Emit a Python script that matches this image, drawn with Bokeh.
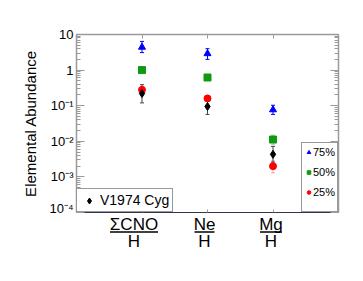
from bokeh.plotting import figure
from bokeh.layouts import column
from bokeh.models import (ColumnDataSource, Whisker, TeeHead, Legend, LegendItem,
                          LinearAxis, LogAxis, FixedTicker, Range1d)
from bokeh.embed import file_html
from bokeh.resources import INLINE
from bokeh.core.properties import value

# ---------------- data ----------------
cat_x = [1, 2, 3]
cat_num = ["ΣCNO", "Ne", "Mg"]
cat_den = ["H", "H", "H"]

v75 = [4.4, 2.9, 0.077]
v75_lo = [3.1, 2.0, 0.057]
v75_hi = [6.4, 4.0, 0.103]

v50 = [1.0, 0.62, 0.0112]
v50_lo = [0.9, 0.56, 0.008]
v50_hi = [1.1, 0.69, 0.015]

v25 = [0.28, 0.16, 0.0020]
v25_lo = [0.25, 0.14, 0.0013]
v25_hi = [0.31, 0.18, 0.0028]

vobs = [0.22, 0.095, 0.0043]
vobs_lo = [0.12, 0.057, 0.0026]
vobs_hi = [0.39, 0.149, 0.0072]

y_ticks = [0.0001, 0.001, 0.01, 0.1, 1, 10]
y_tick_labels = ["10⁻⁴", "10⁻³", "10⁻²", "10⁻¹", "1", "10"]
minor = [m * 10.0 ** e for e in range(-4, 1) for m in range(2, 10)]

# ---------------- layout ----------------
W = 355
BL, BR, BT, BB = 76, 17, 34, 3
FH = 178
H1 = BT + FH + BB
H2 = 50
FW = W - BL - BR
X0, X1 = 0, 4
Y0, Y1 = 1e-4, 10
FONT = "Liberation Sans"
GRAY = "#9a9a9a"

p = figure(width=W, height=H1, y_axis_type="log", x_range=Range1d(X0, X1),
           y_range=Range1d(Y0, Y1), output_backend="svg", toolbar_location=None,
           min_border_left=BL, min_border_right=BR, min_border_top=BT,
           min_border_bottom=BB)
p.outline_line_color = None
p.grid.visible = False
p.background_fill_color = "white"
p.border_fill_color = "white"

# left axis
ya = p.yaxis[0]
ya.ticker = FixedTicker(ticks=y_ticks, minor_ticks=minor)
ya.major_label_overrides = dict(zip(y_ticks, y_tick_labels))
ya.axis_label = "Elemental Abundance"
ya.axis_label_text_font = FONT
ya.axis_label_text_font_style = "normal"
ya.axis_label_text_font_size = "15px"
ya.axis_label_text_color = "black"
ya.axis_label_standoff = 7
ya.major_label_text_font = FONT
ya.major_label_text_font_size = "13px"
ya.major_label_text_color = "black"
ya.major_label_standoff = 3
ya.major_tick_in = 8
ya.major_tick_out = 0
ya.minor_tick_in = 4
ya.minor_tick_out = 0
ya.axis_line_color = GRAY
ya.axis_line_width = 1.5
ya.major_tick_line_color = GRAY
ya.minor_tick_line_color = GRAY

# bottom axis
xa = p.xaxis[0]
xa.ticker = FixedTicker(ticks=cat_x, minor_ticks=[])
xa.major_label_text_font_size = "0px"
xa.major_label_text_color = None
xa.major_label_standoff = 0
xa.major_tick_in = 3
xa.major_tick_out = 0
xa.minor_tick_line_color = None
xa.axis_line_color = "#34344e"
xa.axis_line_width = 1.2
xa.major_tick_line_color = GRAY

# top axis
ta = LinearAxis(ticker=FixedTicker(ticks=cat_x, minor_ticks=[]))
ta.major_label_text_font_size = "0px"
ta.major_label_text_color = None
ta.major_label_standoff = 0
ta.major_tick_in = 4
ta.major_tick_out = 0
ta.minor_tick_line_color = None
ta.axis_line_color = GRAY
ta.axis_line_width = 1.5
ta.major_tick_line_color = GRAY
p.add_layout(ta, "above")

# right axis
ra = LogAxis(ticker=FixedTicker(ticks=y_ticks, minor_ticks=minor))
ra.major_label_text_font_size = "0px"
ra.major_label_text_color = None
ra.major_label_standoff = 0
ra.major_tick_in = 8
ra.major_tick_out = 0
ra.minor_tick_in = 4
ra.minor_tick_out = 0
ra.axis_line_color = GRAY
ra.axis_line_width = 1.5
ra.major_tick_line_color = GRAY
ra.minor_tick_line_color = GRAY
p.add_layout(ra, "right")

# ---------------- series ----------------
series = [
    ("75%", v75, v75_lo, v75_hi, "blue", "triangle", 7, "blue", 1.0),
    ("50%", v50, v50_lo, v50_hi, "#119911", "square", 7, "#66cc66", 0.6),
    ("25%", v25, v25_lo, v25_hi, "red", "circle", 7, "#ff6666", 0.6),
    ("V1974 Cyg", vobs, vobs_lo, vobs_hi, "black", "diamond", 8, "#444444", 1.0),
]
rend = {}
for name, vals, lo, hi, col, mk, sz, ecol, ealpha in series:
    src = ColumnDataSource(dict(x=cat_x, y=vals, lo=lo, hi=hi))
    w = Whisker(base="x", lower="lo", upper="hi", source=src, dimension="height",
                line_color=ecol, line_alpha=ealpha, line_width=1,
                upper_head=TeeHead(size=4, line_color=ecol, line_alpha=ealpha, line_width=1),
                lower_head=TeeHead(size=4, line_color=ecol, line_alpha=ealpha, line_width=1))
    p.add_layout(w)
    rend[name] = p.scatter("x", "y", source=src, marker=mk, size=sz,
                           fill_color=col, line_color=col)

# legends
leg_r = Legend(items=[LegendItem(label="75%", renderers=[rend["75%"]]),
                      LegendItem(label="50%", renderers=[rend["50%"]]),
                      LegendItem(label="25%", renderers=[rend["25%"]])],
               location=(FW - 37, 0), orientation="vertical")
leg_r.label_text_font = FONT
leg_r.label_text_font_size = "11px"
leg_r.label_text_color = "black"
leg_r.label_height = 14
leg_r.glyph_height = 14
leg_r.glyph_width = 9
leg_r.label_standoff = 0
leg_r.spacing = 6
leg_r.padding = 2
leg_r.margin = 0
leg_r.border_line_color = "#333333"
leg_r.border_line_width = 1
leg_r.background_fill_alpha = 1
if "title_location" in Legend.properties():
    leg_r.title = " "
    leg_r.title_location = "below"
    leg_r.title_text_font_size = "4px"
    leg_r.title_standoff = 5
p.add_layout(leg_r)

leg_l = Legend(items=[LegendItem(label="V1974 Cyg", renderers=[rend["V1974 Cyg"]])],
               location=(0, 0))
leg_l.label_text_font = FONT
leg_l.label_text_font_size = "14px"
leg_l.label_text_color = "black"
leg_l.label_height = 15
leg_l.glyph_height = 15
leg_l.glyph_width = 18
leg_l.label_standoff = 2
leg_l.padding = 3
leg_l.margin = 0
leg_l.border_line_color = "#333333"
leg_l.border_line_width = 1
p.add_layout(leg_l)

# ---------------- category labels (fractions) below the axis ----------------
x_shift_px = [-8, -3, -2]
bar_half_px = [24, 10, 11]
px2x = (X1 - X0) / FW
lab = ColumnDataSource(dict(
    x=cat_x, num=cat_num, den=cat_den, dx=x_shift_px,
    bx0=[c + (s - h) * px2x for c, s, h in zip(cat_x, x_shift_px, bar_half_px)],
    bx1=[c + (s + h) * px2x for c, s, h in zip(cat_x, x_shift_px, bar_half_px)],
))

p2 = figure(width=W, height=H2, x_range=p.x_range, y_range=Range1d(H2, 0),
            output_backend="svg", toolbar_location=None,
            x_axis_location=None, y_axis_location=None,
            min_border_left=BL, min_border_right=BR, min_border_top=0,
            min_border_bottom=0)
p2.outline_line_color = None
p2.grid.visible = False
p2.background_fill_color = "white"
p2.border_fill_color = "white"
p2.text(x="x", y=8.5, text="num", x_offset="dx", source=lab, text_align="center",
        text_baseline="middle", text_font=value(FONT), text_font_size="17px",
        text_color="black")
p2.text(x="x", y=25.5, text="den", x_offset="dx", source=lab, text_align="center",
        text_baseline="middle", text_font=value(FONT), text_font_size="17px",
        text_color="black")
p2.segment(x0="bx0", x1="bx1", y0=16.5, y1=16.5, source=lab, line_color="black",
           line_width=1.6)

layout = column(p, p2, spacing=0)
open("out.html", "w").write(file_html(layout, INLINE))
